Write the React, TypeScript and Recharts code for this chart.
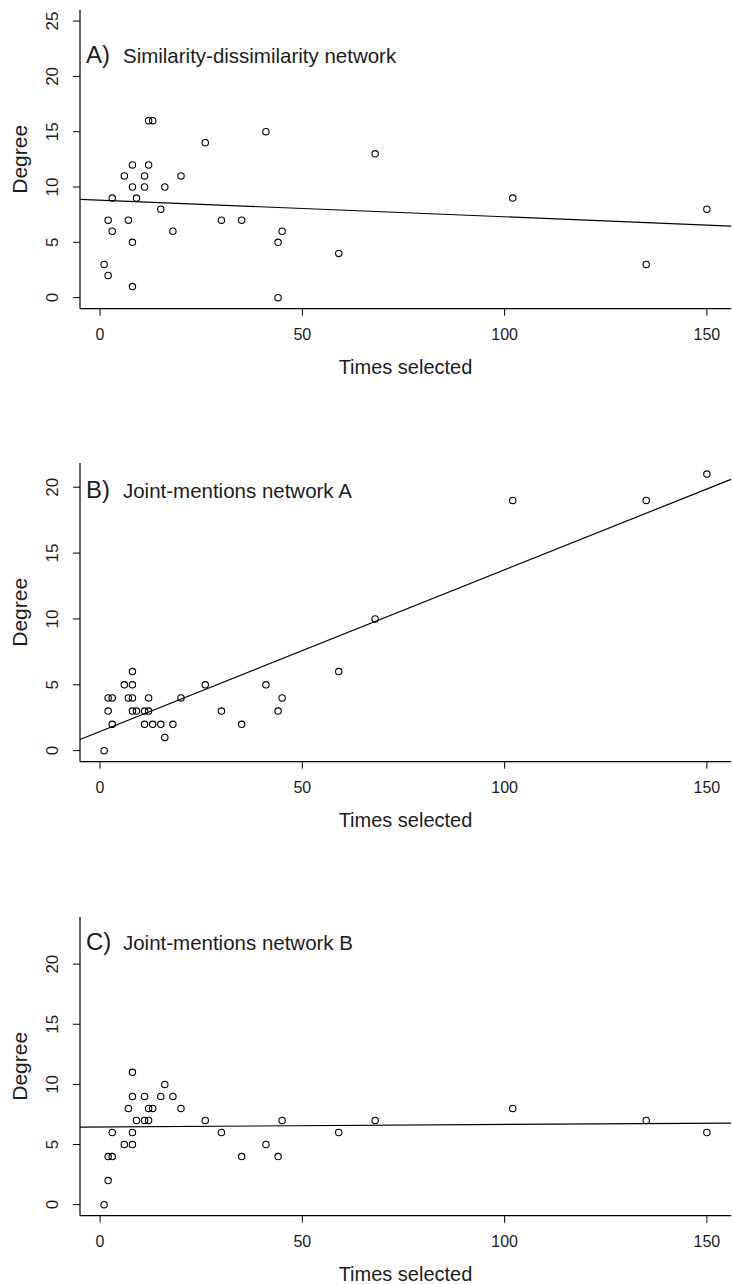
import React from 'react';
import { ScatterChart, Scatter, XAxis, YAxis, ReferenceLine, Customized } from 'recharts';

// ---------- data ----------
const timesA = [1, 2, 2, 3, 3, 6, 7, 8, 8, 8, 8, 9, 11, 11, 12, 12, 13, 15, 16, 18, 20, 26, 30, 35, 41, 44, 44, 45, 59, 68, 102, 135, 150];
const degreeA = [3, 7, 2, 9, 6, 11, 7, 12, 10, 5, 1, 9, 11, 10, 16, 12, 16, 8, 10, 6, 11, 14, 7, 7, 15, 5, 0, 6, 4, 13, 9, 3, 8];

const timesB = [1, 2, 2, 3, 3, 6, 7, 8, 8, 8, 8, 9, 11, 11, 12, 12, 13, 15, 16, 18, 20, 26, 30, 35, 41, 44, 45, 59, 68, 102, 135, 150];
const degreeB = [0, 4, 3, 4, 2, 5, 4, 6, 5, 4, 3, 3, 3, 2, 4, 3, 2, 2, 1, 2, 4, 5, 3, 2, 5, 3, 4, 6, 10, 19, 19, 21];

const timesC = [1, 2, 2, 3, 3, 6, 7, 8, 8, 8, 8, 9, 11, 11, 12, 12, 13, 15, 16, 18, 20, 26, 30, 35, 41, 44, 45, 59, 68, 102, 135, 150];
const degreeC = [0, 4, 2, 6, 4, 5, 8, 11, 9, 6, 5, 7, 9, 7, 8, 7, 8, 9, 10, 9, 8, 7, 6, 4, 5, 4, 7, 6, 7, 8, 7, 6];

// fitted regression lines (end points)
const fitA = [{ x: -4.96, y: 8.88 }, { x: 155.96, y: 6.47 }];
const fitB = [{ x: -4.96, y: 0.85 }, { x: 155.96, y: 20.6 }];
const fitC = [{ x: -4.96, y: 6.45 }, { x: 155.96, y: 6.78 }];

const xTicks = [0, 50, 100, 150];
const yTicksA = [0, 5, 10, 15, 20, 25];
const yTicksB = [0, 5, 10, 15, 20];
const yTicksC = [0, 5, 10, 15, 20];

const xDomain: [number, number] = [-4.96, 155.96];
const yDomainA: [number, number] = [-1, 26];
const yDomainB: [number, number] = [-0.84, 21.84];
const yDomainC: [number, number] = [-0.92, 23.92];

const letters = ['A)', 'B)', 'C)'];
const subtitles = ['Similarity-dissimilarity network', 'Joint-mentions network A', 'Joint-mentions network B'];
const xLabel = 'Times selected';
const yLabel = 'Degree';

// ---------- layout ----------
const W = 732;
const H = 453.3;
const PLOT_TOP = 10;
const PLOT_H = 298.7;
const Y_AXIS_W = 80;
const X_AXIS_H = 30;
const FONT = '"Liberation Sans", Arial, sans-serif';
const INK = '#1c1c1c';

const toPoints = (xs: number[], ys: number[]) => xs.map((x, i) => ({ x, y: ys[i] }));

const OpenCircle = (props: any) => {
  const { cx, cy } = props;
  if (cx == null || cy == null) return null;
  return <circle cx={cx} cy={cy} r={3.2} fill="none" stroke="#000" strokeWidth={1.1} />;
};

const XTick = (props: any) => {
  const { x, y, payload } = props;
  return (
    <text x={x} y={y + 24} textAnchor="middle" fontSize={16} fontFamily={FONT} fill={INK}>
      {payload.value}
    </text>
  );
};

const YTick = (props: any) => {
  const { y, payload } = props;
  return (
    <text
      x={58}
      y={y}
      transform={`rotate(-90 58 ${y})`}
      textAnchor="middle"
      fontSize={17}
      fontFamily={FONT}
      fill={INK}
    >
      {payload.value}
    </text>
  );
};

type PanelProps = {
  points: { x: number; y: number }[];
  fit: { x: number; y: number }[];
  yDomain: [number, number];
  yTicks: number[];
  letter: string;
  subtitle: string;
  titleBaseline: number;
  top: number;
};

const Panel = ({ points, fit, yDomain, yTicks, letter, subtitle, titleBaseline, top }: PanelProps) => {
  const plotBottom = PLOT_TOP + PLOT_H;
  const plotCenterY = PLOT_TOP + PLOT_H / 2;
  const plotCenterX = (Y_AXIS_W + W - 1) / 2;
  return (
    <div style={{ position: 'absolute', left: 0, top, width: W, height: H }}>
      <ScatterChart
        width={W}
        height={H}
        margin={{ top: PLOT_TOP, right: 1, left: 0, bottom: H - PLOT_TOP - PLOT_H - X_AXIS_H }}
      >
        <XAxis
          type="number"
          dataKey="x"
          domain={xDomain}
          ticks={xTicks}
          allowDataOverflow
          height={X_AXIS_H}
          tickSize={7}
          tickMargin={0}
          tick={<XTick />}
          axisLine={{ stroke: '#000', strokeWidth: 1.2 }}
          tickLine={{ stroke: '#000', strokeWidth: 1 }}
          interval={0}
        />
        <YAxis
          type="number"
          dataKey="y"
          domain={yDomain}
          ticks={yTicks}
          allowDataOverflow
          width={Y_AXIS_W}
          tickSize={7}
          tickMargin={0}
          tick={<YTick />}
          axisLine={{ stroke: '#000', strokeWidth: 1.2 }}
          tickLine={{ stroke: '#000', strokeWidth: 1 }}
          interval={0}
        />
        <ReferenceLine
          segment={fit}
          stroke="#000"
          strokeWidth={1.2}
          ifOverflow="visible"
        />
        <Scatter data={points} shape={<OpenCircle />} isAnimationActive={false} />
        <Customized
          component={() => (
            <g fontFamily={FONT} fill={INK}>
              <text x={86} y={titleBaseline} fontSize={24}>{letter}</text>
              <text x={123} y={titleBaseline} fontSize={20.5}>{subtitle}</text>
              <text x={plotCenterX} y={plotBottom + 65.5} fontSize={20} textAnchor="middle">{xLabel}</text>
              <text
                x={27}
                y={plotCenterY}
                fontSize={21}
                textAnchor="middle"
                transform={`rotate(-90 27 ${plotCenterY})`}
              >
                {yLabel}
              </text>
            </g>
          )}
        />
      </ScatterChart>
    </div>
  );
};

export default function App() {
  return (
    <div style={{ position: 'absolute', left: 0, top: 0, width: W, height: 1285, background: '#fff' }}>
      <Panel
        points={toPoints(timesA, degreeA)}
        fit={fitA}
        yDomain={yDomainA}
        yTicks={yTicksA}
        letter={letters[0]}
        subtitle={subtitles[0]}
        titleBaseline={63.3}
        top={0}
      />
      <Panel
        points={toPoints(timesB, degreeB)}
        fit={fitB}
        yDomain={yDomainB}
        yTicks={yTicksB}
        letter={letters[1]}
        subtitle={subtitles[1]}
        titleBaseline={45.5}
        top={453}
      />
      <Panel
        points={toPoints(timesC, degreeC)}
        fit={fitC}
        yDomain={yDomainC}
        yTicks={yTicksC}
        letter={letters[2]}
        subtitle={subtitles[2]}
        titleBaseline={43.5}
        top={906.7}
      />
    </div>
  );
}
